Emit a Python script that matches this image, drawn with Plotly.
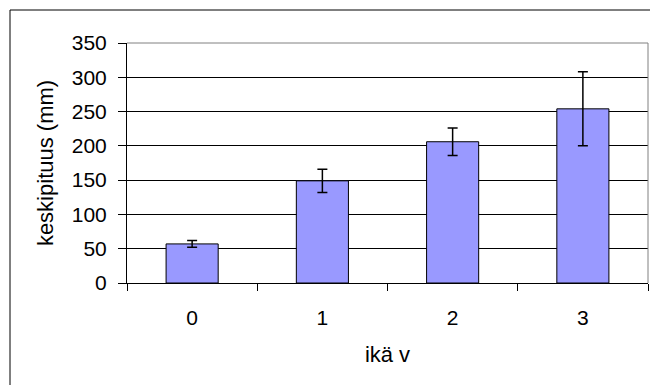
import plotly.graph_objects as go

categories = ["0", "1", "2", "3"]
means = [57, 149, 206, 254]
errors = [5, 17, 20, 54]
y_ticks = [0, 50, 100, 150, 200, 250, 300, 350]

FONT = "Liberation Sans, Arial, sans-serif"

fig = go.Figure()
fig.add_trace(go.Bar(
    x=categories, y=means,
    marker=dict(color="#9999FF", line=dict(color="black", width=1)),
    width=0.4,
    error_y=dict(type="data", array=errors, visible=True, color="black", thickness=1.5, width=5),
))

fig.update_layout(
    width=650, height=385,
    margin=dict(l=127, r=2, t=43, b=102),
    paper_bgcolor="white", plot_bgcolor="white",
    font=dict(family=FONT, size=21, color="black"),
    showlegend=False,
    bargap=0.6,
    xaxis=dict(
        type="category", tickson="boundaries", ticks="outside", ticklen=7,
        tickcolor="black", showline=True, linecolor="black", linewidth=1,
        showgrid=False, tickfont=dict(size=21), ticklabelstandoff=16,
        title=dict(text="ikä v", font=dict(size=22), standoff=18),
        automargin=False,
    ),
    yaxis=dict(
        range=[0, 350], tickvals=y_ticks, ticks="outside", ticklen=8, tickcolor="black",
        showline=True, linecolor="black", linewidth=1,
        showgrid=True, gridcolor="black", gridwidth=1, zeroline=False,
        tickfont=dict(size=21), ticklabelstandoff=7,
        title=dict(text="keskipituus (mm)", font=dict(size=22), standoff=12),
        automargin=False,
    ),
    shapes=[
        dict(type="line", xref="paper", yref="paper", x0=1, x1=1, y0=0, y1=1,
             line=dict(color="#808080", width=1)),
        dict(type="line", xref="paper", yref="paper", x0=0, x1=1, y0=1, y1=1,
             line=dict(color="#808080", width=1)),
        dict(type="rect", xref="paper", yref="paper",
             x0=(10 - 127) / 521, x1=1.2, y0=-0.6, y1=(283 - 10) / 240,
             line=dict(color="black", width=1), fillcolor="rgba(0,0,0,0)"),
    ],
)

fig.write_html("out.html", config={"displayModeBar": False},
               post_script="document.body.style.margin='0';")
